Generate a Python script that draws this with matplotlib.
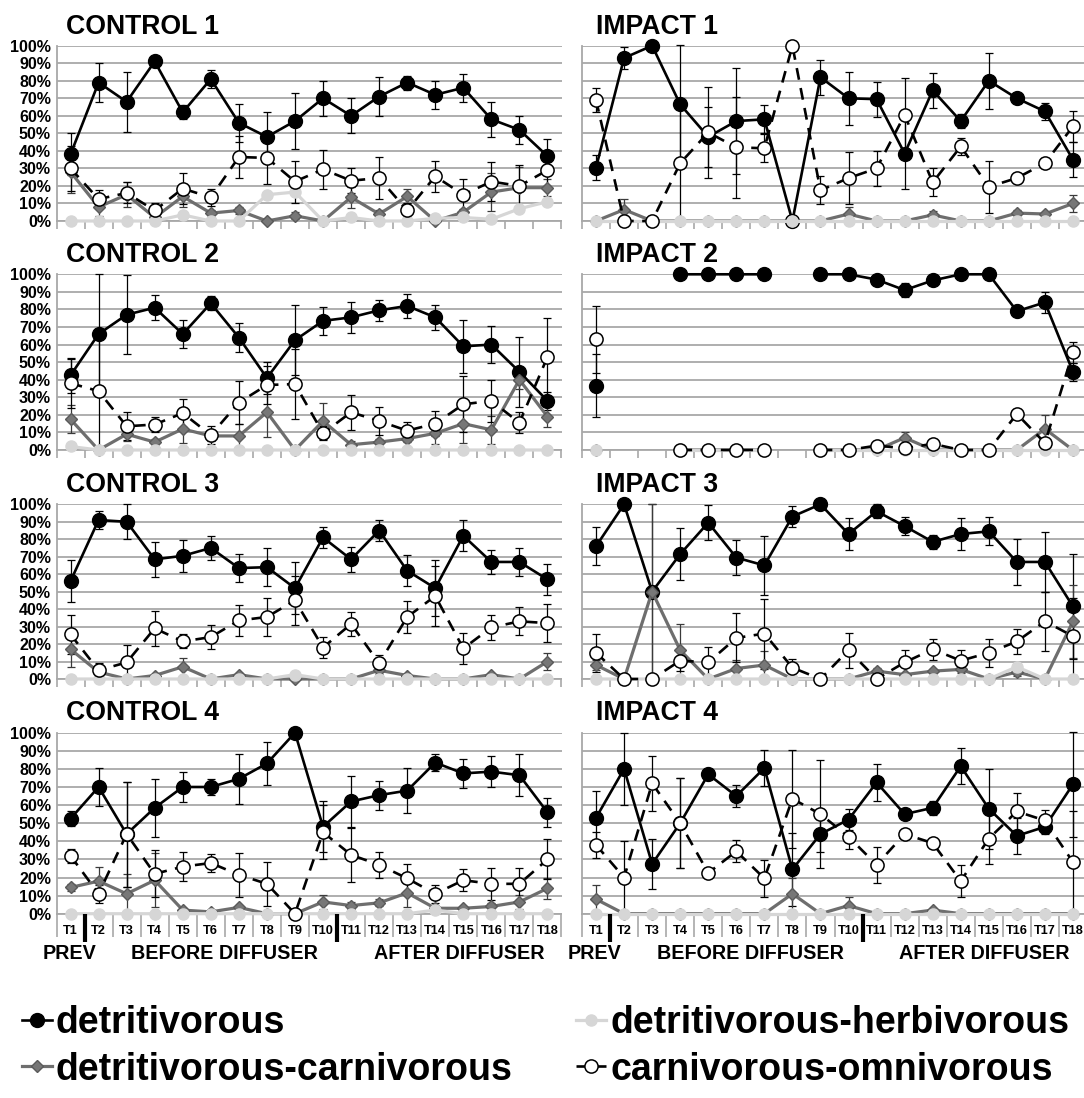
import numpy as np
import matplotlib
matplotlib.use('Agg')
import matplotlib.pyplot as plt
from matplotlib.ticker import PercentFormatter

plt.rcParams['font.family'] = ['Liberation Sans', 'DejaVu Sans']
plt.rcParams['font.weight'] = 'bold'

nan = np.nan

categories = ['T1', 'T2', 'T3', 'T4', 'T5', 'T6', 'T7', 'T8', 'T9', 'T10',
              'T11', 'T12', 'T13', 'T14', 'T15', 'T16', 'T17', 'T18']
series_names = ['detritivorous', 'detritivorous-herbivorous',
                'detritivorous-carnivorous', 'carnivorous-omnivorous']
panel_titles = ['CONTROL 1', 'IMPACT 1', 'CONTROL 2', 'IMPACT 2',
                'CONTROL 3', 'IMPACT 3', 'CONTROL 4', 'IMPACT 4']
period_labels = ['PREV', 'BEFORE DIFFUSER', 'AFTER DIFFUSER']

# ---------------- CONTROL 1 ----------------
c1_det = [38, 79, 68, 91, 62, 81, 56, 48, 57, 70, 60, 71, 79, 72, 76, 58, 52, 37]
c1_det_err = [12, 11, 17, 3, 4, 5, 11, 14, 16, 10, 10, 11, 4, 8, 8, 10, 8, 10]
c1_herb = [0, 0, 0, 0, 3.5, 0, 0, 15, 16.5, 0, 2, 0, 0, 1.5, 2, 1, 7, 11]
c1_carn = [28, 8, 15, 2, 14, 4.5, 6, 0, 3, 0, 13.5, 4, 14, 0, 5, 16.5, 19, 19]
c1_carn_err = [12, 5, 7, 2, 6, 2, 2, 0, 2, 0, 6, 2, 4, 0, 2, 11, 12, 5]
c1_omni = [30, 12.5, 16, 6, 18.5, 13.5, 36.5, 36, 22.5, 29.5, 23, 24.5, 6, 25.5, 15, 22.5, 20, 29]
c1_omni_err = [13, 5, 6, 4, 9, 5, 12, 15, 12, 11, 7, 12, 4, 9, 9, 11, 12, 10]

# ---------------- CONTROL 2 ----------------
c2_det = [42.5, 66, 77, 81, 66, 83.5, 64, 41, 62.5, 73.5, 75.5, 79.5, 82, 75.5, 59, 60, 44.5, 28]
c2_det_err = [10, 34, 22.5, 7, 8, 4, 8.5, 9, 20, 8, 9, 6, 7, 7, 15, 10.5, 20, 5]
c2_herb = [2, 0, 0, 0, 0, 0, 0, 0, 0, 0, 0, 0, 0, 0, 0, 0, 0, 0]
c2_carn = [17.5, 0, 9, 4.5, 12, 8, 8, 21.5, 0, 16.5, 3, 4.5, 6.5, 9.5, 15, 11.5, 40, 19]
c2_carn_err = [8, 0, 4, 2, 8, 3, 7, 14, 0, 10, 2, 2, 2, 6, 11, 8, 5, 6]
c2_omni = [38, 33.5, 13.5, 14.5, 21, 8.5, 27, 37, 37.5, 9.5, 21.5, 16.5, 11, 15, 26, 28, 15.5, 53]
c2_omni_err = [14, 33, 8, 4, 8, 5, 12, 11, 20, 4, 10, 8, 5, 7, 16, 12, 6, 22]

# ---------------- CONTROL 3 ----------------
c3_det = [56, 91, 90, 68.5, 70.5, 75, 63.5, 64, 52, 81, 68.5, 85, 62, 52, 82, 67, 67, 57]
c3_det_err = [12, 5, 10, 10, 9, 7, 8, 11, 15, 6, 7, 6, 9, 16, 9, 7, 8, 9]
c3_herb = [0, 0, 0, 0, 0, 0, 0, 0, 2.5, 0, 0, 0, 0, 0, 0, 0, 0, 0]
c3_carn = [17, 4, 0, 2, 7, 0, 2.5, 0, 0, 0, 0, 5, 2, 0, 0, 2.5, 0, 10]
c3_carn_err = [10, 2, 0, 1, 5, 0, 1, 0, 0, 0, 0, 2, 1, 0, 0, 1, 0, 5]
c3_omni = [25.5, 5, 9.5, 29, 21.5, 24, 33.5, 35.5, 45, 18, 31.5, 9, 35.5, 47.5, 17.5, 29.5, 33, 32]
c3_omni_err = [11, 4, 10, 10, 4, 7, 9, 11, 14, 6, 7, 5, 9, 17, 9, 7, 8, 11]

# ---------------- CONTROL 4 ----------------
c4_det = [52.5, 70, 44, 58.5, 70, 70, 74.5, 83, 100, 48, 62, 65.5, 68, 83.5, 77.5, 78.5, 76.5, 56]
c4_det_err = [4, 10.5, 29, 16, 8.5, 4.5, 14, 12, 0, 14, 14, 8, 12.5, 4.5, 8, 8.5, 11.5, 8]
c4_herb = [0, 0, 0, 0, 0, 0, 0, 0, 0, 0, 0, 0, 0, 2, 0, 0, 0, 0]
c4_carn = [14.5, 18, 11, 18.5, 2, 1, 3.5, 0, 0, 6.5, 4.5, 6, 11.5, 3, 3, 4, 6.5, 14]
c4_carn_err = [2, 8, 11, 15, 1, 1, 1, 0, 0, 4, 2, 2, 8, 1, 1, 2, 4, 6]
c4_omni = [32, 11, 44, 22, 26, 28, 21.5, 16.5, 0, 45, 32.5, 27, 19.5, 11, 18.5, 16.5, 16.5, 30]
c4_omni_err = [4, 5, 29, 13, 8, 5, 12, 12, 0, 15, 15, 7, 8, 5, 6, 9, 9, 11]

# ---------------- IMPACT 1 ----------------
i1_det = [30.5, 93, 100, 66.5, 48, 57, 58, 0, 82, 70, 69.5, 38.5, 74.5, 57, 80, 70, 62.5, 35]
i1_det_err = [7, 6.5, 0, 34, 17, 30, 8, 0, 10, 15, 10, 20, 10, 4, 16, 1, 5, 10]
i1_herb = [0, 0, 0, 0, 0, 0, 0, 0, 0, 0, 0, 0, 0, 0, 0, 0, 0, 0]
i1_carn = [0, 6.5, 0, 0, 0, 0, 0, 0, 0, 4, 0, 0, 3.5, 0, 0, 4.5, 4, 10]
i1_carn_err = [0, 6, 0, 0, 0, 0, 0, 0, 0, 4, 0, 0, 2, 0, 0, 2, 1, 5]
i1_omni = [69, 0, 0, 33, 50.5, 42, 41.5, 100, 17.5, 24.5, 30, 60.5, 22, 42.5, 19.5, 24.5, 33, 54]
i1_omni_err = [7, 0, 0, 33, 26, 29, 8, 0, 8, 15, 10, 21, 8, 5, 15, 0, 3, 9]

# ---------------- IMPACT 2 ----------------
i2_det = [36.5, nan, nan, 100, 100, 100, 100, nan, 100, 100, 97, 91, 96.5, 100, 100, 79, 84, 44.5]
i2_det_err = [18, nan, nan, 0, 0, 0, 0, nan, 0, 0, 1, 4, 1, 0, 0, 2, 6, 5]
i2_herb = [0, nan, nan, 0, 0, 0, 0, nan, 0, 0, 0, 0, 0, 0, 0, 0, 0, 0]
i2_carn = [0, nan, nan, 0, 0, 0, 0, nan, 0, 0, 0, 7, 0, 0, 0, 0, 12, 0]
i2_carn_err = [0, nan, nan, 0, 0, 0, 0, nan, 0, 0, 0, 3, 0, 0, 0, 0, 8, 0]
i2_omni = [63, nan, nan, 0, 0, 0, 0, nan, 0, 0, 2.5, 1, 3.5, 0, 0, 20.5, 4, 55.5]
i2_omni_err = [19, nan, nan, 0, 0, 0, 0, nan, 0, 0, 0, 0, 0, 0, 0, 3, 0, 6]

# ---------------- IMPACT 3 ----------------
i3_det = [76, 100, 50, 71.5, 89.5, 69.5, 65, 93, 100, 83, 96, 87.5, 78.5, 83, 84.5, 67, 67, 41.5]
i3_det_err = [11, 0, 50, 15, 10, 10, 17, 6, 0, 9, 4, 5, 4, 9, 8, 13, 17, 30]
i3_herb = [0, 0, 0, 0, 0, 0, 0, 0, 0, 0, 0, 0, 0, 0, 0, 7, 0, 0]
i3_carn = [8, 0, 50, 16.5, 0, 6, 8, 0, 0, 0, 4.5, 2.5, 4.5, 5.5, 0, 4, 0, 33]
i3_carn_err = [3, 0, 50, 15, 0, 5, 8, 0, 0, 0, 2, 1, 1, 2, 0, 2, 0, 21]
i3_omni = [15, 0, 0, 10.5, 9.5, 23.5, 26, 6.5, 0, 16.5, 0, 9.5, 17, 10.5, 15, 21.5, 33, 24.5]
i3_omni_err = [11, 0, 0, 6, 9, 14, 20, 5, 0, 10, 0, 7, 6, 6, 8, 7, 17, 22]

# ---------------- IMPACT 4 ----------------
i4_det = [53, 80, 27.5, 50, 77, 65, 80.5, 24.5, 44, 52, 72.5, 55, 58.5, 81.5, 58, 43, 48, 71.5]
i4_det_err = [15, 20, 14, 25, 0, 6, 10, 20, 10, 6, 10, 0, 4, 10, 22, 10, 4, 29]
i4_herb = [0, 0, 0, 0, 0, 0, 0, 0, 0, 0, 0, 0, 0, 0, 0, 0, 0, 0]
i4_carn = [8, 0, 0, 0, 0, 0, 0, 11, 0, 4.5, 0, 0, 2, 0, 0, 0, 0, 0]
i4_carn_err = [8, 0, 0, 0, 0, 0, 0, 9, 0, 5, 0, 0, 0, 0, 0, 0, 0, 0]
i4_omni = [38, 20, 72, 50, 22.5, 34.5, 19.5, 63.5, 55, 42.5, 27, 44, 39, 18, 41.5, 56.5, 51.5, 28.5]
i4_omni_err = [7, 20, 15, 25, 0, 6, 10, 27, 30, 7, 10, 0, 2, 9, 14, 10, 6, 28]

panel_data = [
    (c1_det, c1_det_err, c1_herb, c1_carn, c1_carn_err, c1_omni, c1_omni_err),
    (i1_det, i1_det_err, i1_herb, i1_carn, i1_carn_err, i1_omni, i1_omni_err),
    (c2_det, c2_det_err, c2_herb, c2_carn, c2_carn_err, c2_omni, c2_omni_err),
    (i2_det, i2_det_err, i2_herb, i2_carn, i2_carn_err, i2_omni, i2_omni_err),
    (c3_det, c3_det_err, c3_herb, c3_carn, c3_carn_err, c3_omni, c3_omni_err),
    (i3_det, i3_det_err, i3_herb, i3_carn, i3_carn_err, i3_omni, i3_omni_err),
    (c4_det, c4_det_err, c4_herb, c4_carn, c4_carn_err, c4_omni, c4_omni_err),
    (i4_det, i4_det_err, i4_herb, i4_carn, i4_carn_err, i4_omni, i4_omni_err),
]

# ---------------- layout (pixels) ----------------
W, H = 1084, 1098
fig = plt.figure(figsize=(W / 100, H / 100), dpi=100)
fig.patch.set_facecolor('white')

col_x0 = [56.5, 582.0]
ax_w = 505.0
row_tops = [45.7, 274.3, 504.3, 732.7]
row_heights = [175.3, 175.7, 174.7, 181.0]
title_x = [66, 596]

GRID = '#a8a8a8'
x = np.arange(1, 19)

def frac(a):
    return np.array(a, dtype=float) / 100.0

handles = {}
for idx, (title, data) in enumerate(zip(panel_titles, panel_data)):
    r, c = divmod(idx, 2)
    top, ax_h = row_tops[r], row_heights[r]
    ax = fig.add_axes([col_x0[c] / W, 1 - (top + ax_h) / H, ax_w / W, ax_h / H])
    det, det_e, herb, carn, carn_e, omni, omni_e = [frac(d) for d in data]

    ax.set_xlim(0.5, 18.5)
    ax.set_ylim(0, 1)
    ax.set_yticks(np.arange(0, 1.001, 0.1))
    ax.yaxis.set_major_formatter(PercentFormatter(1.0, decimals=0))
    ax.grid(axis='y', color=GRID, lw=1.3)
    ax.set_axisbelow(True)
    for s in ['top', 'right']:
        ax.spines[s].set_visible(False)
    for s in ['left', 'bottom']:
        ax.spines[s].set_color(GRID)
        ax.spines[s].set_linewidth(1.3)
    ax.tick_params(axis='y', length=0, pad=4, labelsize=11.5, labelleft=(c == 0))
    ax.set_xticks(x)
    ax.set_xticks(np.arange(0.5, 18.6, 1.0), minor=True)
    bottom_row = (r == 3)
    ax.tick_params(axis='x', which='major', length=0, pad=8.0, labelsize=9.2,
                   labelbottom=bottom_row)
    ax.tick_params(axis='x', which='minor', length=(16.5 if bottom_row else 6),
                   color=GRID, width=1.2, direction='out')
    ax.set_xticklabels(categories)
    for lab in ax.get_yticklabels() + ax.get_xticklabels():
        lab.set_fontweight('bold')

    # error bars
    ax.errorbar(x, det, yerr=det_e, fmt='none', ecolor='black', elinewidth=0.9,
                capsize=2.8, capthick=0.9, zorder=2, clip_on=False)
    ax.errorbar(x, carn, yerr=carn_e, fmt='none', ecolor='#3a3a3a', elinewidth=0.9,
                capsize=2.8, capthick=0.9, zorder=2, clip_on=False)
    ax.errorbar(x, omni, yerr=omni_e, fmt='none', ecolor='black', elinewidth=0.9,
                capsize=2.8, capthick=0.9, zorder=2, clip_on=False)

    h_det, = ax.plot(x, det, color='black', lw=1.9, marker='o', ms=10,
                     mfc='black', mec='black', zorder=3, clip_on=False)
    h_carn, = ax.plot(x, carn, color='#6e6e6e', lw=2.3, marker='D', ms=6.5,
                      mfc='#777777', mec='#5a5a5a', mew=1, zorder=4, clip_on=False)
    h_herb, = ax.plot(x, herb, color='#d6d6d6', lw=2.3, marker='o', ms=8,
                      mfc='#d6d6d6', mec='#d6d6d6', zorder=5, clip_on=False)
    h_omni, = ax.plot(x, omni, color='black', lw=1.9, ls=(0, (4.5, 3.2)), marker='o',
                      ms=9.5, mfc='white', mec='black', mew=1.1, zorder=6, clip_on=False)
    handles = {'det': h_det, 'carn': h_carn, 'herb': h_herb, 'omni': h_omni}

    fig.text(title_x[c] / W, 1 - (top - 12.2) / H, title, fontsize=19.2,
             fontweight='bold', ha='left', va='baseline')

    if bottom_row:
        for bx in (1.5, 10.5):
            ax.plot([bx, bx], [0, -28.5 / ax_h], color='black', lw=3,
                    solid_capstyle='butt', clip_on=False, zorder=7)
        for px, lab in zip((0.95, 6.5, 14.85), period_labels):
            ax.text(px, -45.6 / ax_h, lab, ha='center', va='baseline', fontsize=14.2,
                    fontweight='bold')

leg = fig.legend([handles['det'], handles['carn'], handles['herb'], handles['omni']],
                 [series_names[0], series_names[2], series_names[1], series_names[3]],
                 ncol=2, loc='upper left', bbox_to_anchor=(22 / W, 1 - 1005 / H),
                 frameon=False, prop={'weight': 'bold', 'size': 27},
                 handlelength=0.8, handletextpad=0.1, columnspacing=1.7,
                 labelspacing=0.28, borderpad=0, borderaxespad=0)

fig.savefig('out.png', dpi=100, facecolor='white')
